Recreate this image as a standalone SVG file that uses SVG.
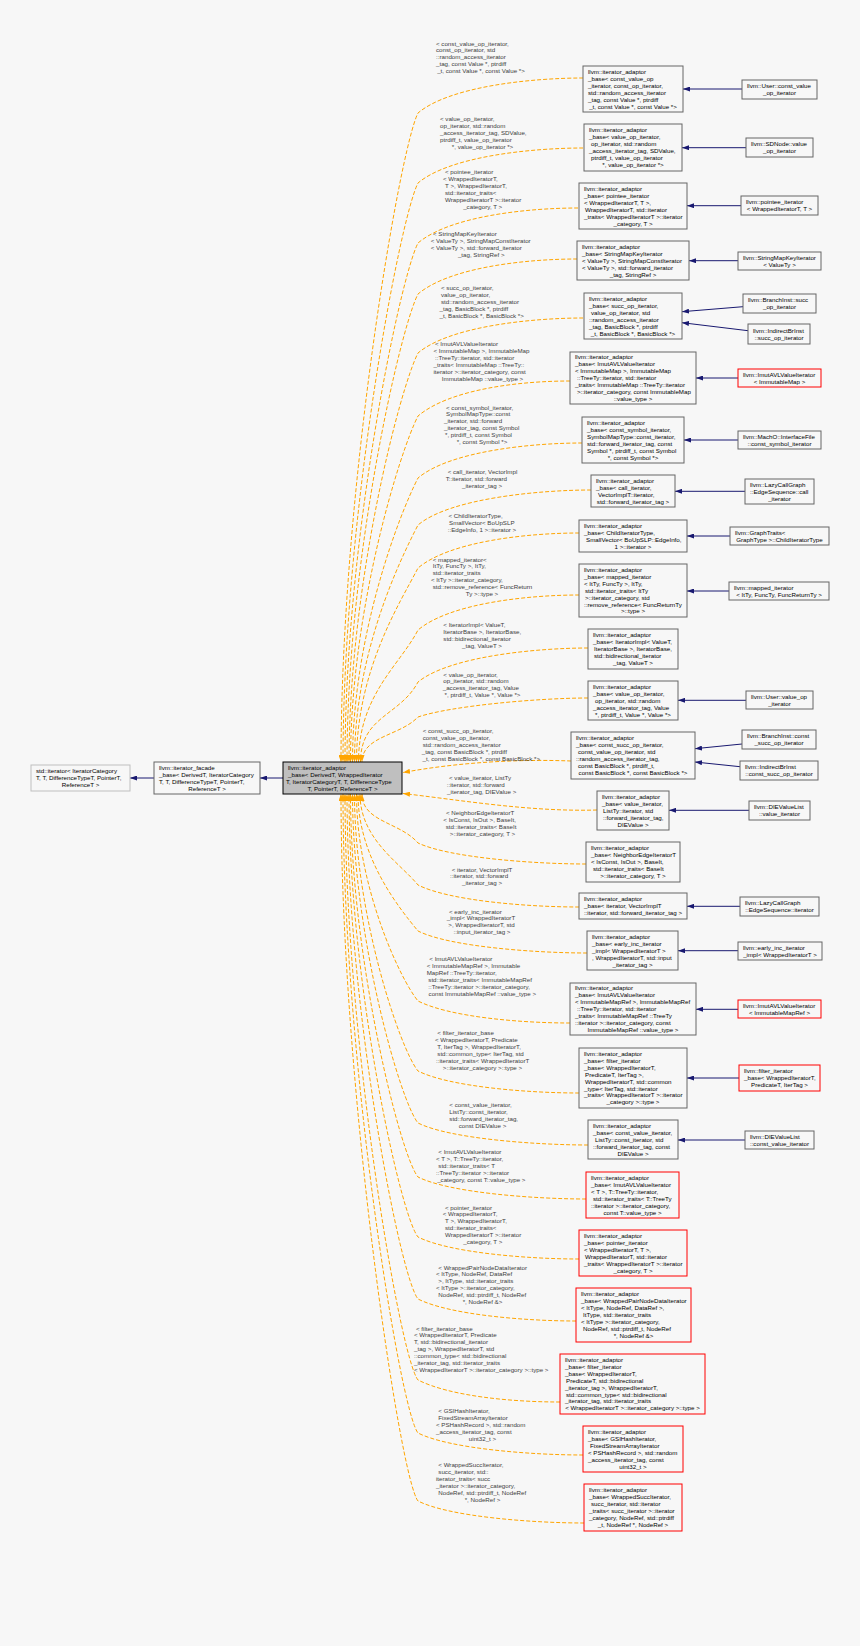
<svg xmlns="http://www.w3.org/2000/svg" width="860" height="1646" viewBox="0 0 860 1646">
<style>
text{font-family:"Liberation Sans",Arial,Helvetica,sans-serif;font-size:6.2px;fill:#000}
.lb text,text.lb{fill:#404040}
.n{fill:#f7f7f7;stroke:#666;stroke-width:1}
.r{fill:#f7f7f7;stroke:#f00;stroke-width:1}
.m{fill:#bfbfbf;stroke:#000;stroke-width:1}
.s{fill:#f7f7f7;stroke:#bfbfbf;stroke-width:1}
.e{fill:none;stroke:#191970;stroke-width:1;marker-end:url(#an)}
.o{fill:none;stroke:#ffa500;stroke-width:1;stroke-dasharray:4,2;marker-end:url(#ao)}
.c{text-anchor:middle}
</style>
<defs>
<marker id="an" viewBox="0 0 7 5" refX="7" refY="2.5" markerWidth="7" markerHeight="5" orient="auto" markerUnits="userSpaceOnUse"><path d="M0,0L7,2.5L0,5z" fill="#191970"/></marker>
<marker id="ao" viewBox="0 0 7 5" refX="7" refY="2.5" markerWidth="7" markerHeight="5" orient="auto" markerUnits="userSpaceOnUse"><path d="M0,0L7,2.5L0,5z" fill="#ffa500"/></marker>
</defs>
<rect width="860" height="1646" fill="#f7f7f7"/>

<g id="connectors">
<path class="e" d="M154,778H130"/>
<path class="e" d="M283,778H260"/>
<path class="e" d="M742,89H683"/>
<path class="e" d="M746,147.7H682"/>
<path class="e" d="M741,205.7H687"/>
<path class="e" d="M738,260.7H689"/>
<path class="e" d="M743,306.7L682,311.7"/>
<path class="e" d="M748,330.7L682,322.7"/>
<path class="e" d="M738,378H696"/>
<path class="e" d="M738,440H684"/>
<path class="e" d="M745,491.3H675"/>
<path class="e" d="M730,536H687"/>
<path class="e" d="M729,591H687"/>
<path class="e" d="M746,700.3H678"/>
<path class="e" d="M742,744L695,748.7"/>
<path class="e" d="M740,766.7L695,762"/>
<path class="e" d="M749,810.3H669"/>
<path class="e" d="M740,906.3H687"/>
<path class="e" d="M738,950.7H678"/>
<path class="e" d="M738,1009.3H696"/>
<path class="e" d="M739,1078H687"/>
<path class="e" d="M745,1140H678"/>

<path class="o" d="M583,78 C533,78 450,86 418,113 C400,148 341,488 341,762"/>
<path class="o" d="M583,148 C533,148 450,156 418,183 C400,218 343,516 343,762"/>
<path class="o" d="M578,208 C528,208 450,216 418,243 C400,278 345,540 345,762"/>
<path class="o" d="M577,259 C527,259 450,267 418,294 C400,329 347,561 347,762"/>
<path class="o" d="M583,318 C533,318 450,326 418,353 C400,388 349,584 349,762"/>
<path class="o" d="M570,381 C520,381 450,389 418,416 C400,451 350.5,610 350.5,762"/>
<path class="o" d="M582,443 C532,443 450,451 418,478 C400,513 352.5,634 352.5,762"/>
<path class="o" d="M591,490 C541,490 450,498 418,525 C400,560 354.5,653 354.5,762"/>
<path class="o" d="M579,533 C529,533 450,541 418,568 C400,603 356.5,670 356.5,762"/>
<path class="o" d="M579,595 C529,595 450,603 418,630 C400,665 358.5,695 358.5,762"/>
<path class="o" d="M588,648 C538,648 450,656 418,682 C400,716 360.5,716 360.5,762"/>
<path class="o" d="M588,698 C538,698 450,706 418,717 C400,736 362,736 362,762"/>
<path class="o" d="M571,761 C520,759 460,762 403,772.5"/>
<path class="o" d="M597,810 C530,812 460,800 403,793.5"/>
<path class="o" d="M586,864 C536,864 450,858 418,843 C400,822 362,822 362,794"/>
<path class="o" d="M579,907 C529,907 450,901 418,885 C400,863 360,839 360,794"/>
<path class="o" d="M587,953 C537,953 450,947 418,931 C400,909 358,858 358,794"/>
<path class="o" d="M570,1023 C520,1023 450,1017 418,1001 C400,979 356.5,886 356.5,794"/>
<path class="o" d="M579,1093 C529,1093 450,1087 418,1071 C400,1049 354.5,914 354.5,794"/>
<path class="o" d="M588,1145 C538,1145 450,1139 418,1123 C400,1101 352.5,934 352.5,794"/>
<path class="o" d="M586,1199 C536,1199 450,1193 418,1177 C400,1155 350.5,956 350.5,794"/>
<path class="o" d="M579,1259 C529,1259 450,1253 418,1237 C400,1215 349,980 349,794"/>
<path class="o" d="M576,1321 C526,1321 450,1315 418,1299 C400,1277 347,1005 347,794"/>
<path class="o" d="M560,1402 C510,1402 450,1396 418,1380 C400,1358 345,1037 345,794"/>
<path class="o" d="M583,1455 C533,1455 450,1449 418,1433 C400,1411 343,1058 343,794"/>
<path class="o" d="M584,1523 C534,1523 450,1517 418,1501 C400,1479 341,1086 341,794"/>

<g class="lb">
<text y="45.5"><tspan x="436">&lt; const_value_op_iterator,</tspan><tspan x="436" dy="6.93">const_op_iterator, std</tspan><tspan x="436" dy="6.93">::random_access_iterator</tspan><tspan x="436" dy="6.93">_tag, const Value *, ptrdiff</tspan><tspan x="481" dy="6.93" class="c">_t, const Value *, const Value *&gt;</tspan></text>
<text y="121.2"><tspan x="440">&lt; value_op_iterator,</tspan><tspan x="440" dy="6.93">op_iterator, std::random</tspan><tspan x="440" dy="6.93">_access_iterator_tag, SDValue,</tspan><tspan x="440" dy="6.93">ptrdiff_t, value_op_iterator</tspan><tspan x="482.5" dy="6.93" class="c">*, value_op_iterator *&gt;</tspan></text>
<text y="174.2"><tspan x="445">&lt; pointee_iterator</tspan><tspan x="443" dy="6.93">&lt; WrappedIteratorT,</tspan><tspan x="445" dy="6.93">T &gt;, WrappedIteratorT,</tspan><tspan x="445" dy="6.93">std::iterator_traits&lt;</tspan><tspan x="445" dy="6.93">WrappedIteratorT &gt;::iterator</tspan><tspan x="482.7" dy="6.93" class="c">_category, T &gt;</tspan></text>
<text y="236.2"><tspan x="433">&lt; StringMapKeyIterator</tspan><tspan x="430.7" dy="6.93">&lt; ValueTy &gt;, StringMapConstIterator</tspan><tspan x="430.7" dy="6.93">&lt; ValueTy &gt;, std::forward_iterator</tspan><tspan x="481.2" dy="6.93" class="c">_tag, StringRef &gt;</tspan></text>
<text y="290.2"><tspan x="441">&lt; succ_op_iterator,</tspan><tspan x="441" dy="6.93">value_op_iterator,</tspan><tspan x="441" dy="6.93">std::random_access_iterator</tspan><tspan x="439.5" dy="6.93">_tag, BasicBlock *, ptrdiff</tspan><tspan x="481.7" dy="6.93" class="c">_t, BasicBlock *, BasicBlock *&gt;</tspan></text>
<text y="345.9"><tspan x="435">&lt; ImutAVLValueIterator</tspan><tspan x="433.5" dy="6.93">&lt; ImmutableMap &gt;, ImmutableMap</tspan><tspan x="435" dy="6.93">::TreeTy::iterator, std::iterator</tspan><tspan x="433.5" dy="6.93">_traits&lt; ImmutableMap ::TreeTy::</tspan><tspan x="433.5" dy="6.93">iterator &gt;::iterator_category, const</tspan><tspan x="482.5" dy="6.93" class="c">ImmutableMap ::value_type &gt;</tspan></text>
<text y="409.5"><tspan x="446">&lt; const_symbol_iterator,</tspan><tspan x="446" dy="6.93">SymbolMapType::const</tspan><tspan x="444" dy="6.93">_iterator, std::forward</tspan><tspan x="444" dy="6.93">_iterator_tag, const Symbol</tspan><tspan x="445" dy="6.93">*, ptrdiff_t, const Symbol</tspan><tspan x="482" dy="6.93" class="c">*, const Symbol *&gt;</tspan></text>
<text y="473.9"><tspan x="447.7">&lt; call_iterator, VectorImpl</tspan><tspan x="445.7" dy="6.93">T::iterator, std::forward</tspan><tspan x="482" dy="6.93" class="c">_iterator_tag &gt;</tspan></text>
<text y="517.9"><tspan x="448.5">&lt; ChildIteratorType,</tspan><tspan x="449" dy="6.93">SmallVector&lt; BoUpSLP</tspan><tspan x="482" dy="6.93" class="c">::EdgeInfo, 1 &gt;::iterator &gt;</tspan></text>
<text y="561.5"><tspan x="432.7">&lt; mapped_iterator&lt;</tspan><tspan x="432.7" dy="6.93">ItTy, FuncTy &gt;, ItTy,</tspan><tspan x="432.7" dy="6.93">std::iterator_traits</tspan><tspan x="431" dy="6.93">&lt; ItTy &gt;::iterator_category,</tspan><tspan x="432.7" dy="6.93">std::remove_reference&lt; FuncReturn</tspan><tspan x="482" dy="6.93" class="c">Ty &gt;::type &gt;</tspan></text>
<text y="627.2"><tspan x="443.3">&lt; IteratorImpl&lt; ValueT,</tspan><tspan x="443.3" dy="6.93">IteratorBase &gt;, IteratorBase,</tspan><tspan x="443.3" dy="6.93">std::bidirectional_iterator</tspan><tspan x="482" dy="6.93" class="c">_tag, ValueT &gt;</tspan></text>
<text y="676.5"><tspan x="443.3">&lt; value_op_iterator,</tspan><tspan x="443.3" dy="6.93">op_iterator, std::random</tspan><tspan x="442.7" dy="6.93">_access_iterator_tag, Value</tspan><tspan x="482.5" dy="6.93" class="c">*, ptrdiff_t, Value *, Value *&gt;</tspan></text>
<text y="732.9"><tspan x="422.7">&lt; const_succ_op_iterator,</tspan><tspan x="422.7" dy="6.93">const_value_op_iterator,</tspan><tspan x="422.7" dy="6.93">std::random_access_iterator</tspan><tspan x="421.7" dy="6.93">_tag, const BasicBlock *, ptrdiff</tspan><tspan x="481.3" dy="6.93" class="c">_t, const BasicBlock *, const BasicBlock *&gt;</tspan></text>
<text y="779.9"><tspan x="449">&lt; value_iterator, ListTy</tspan><tspan x="446.7" dy="6.93">::iterator, std::forward</tspan><tspan x="481.7" dy="6.93" class="c">_iterator_tag, DIEValue &gt;</tspan></text>
<text y="815.2"><tspan x="446">&lt; NeighborEdgeIteratorT</tspan><tspan x="443.3" dy="6.93">&lt; IsConst, IsOut &gt;, BaseIt,</tspan><tspan x="445.7" dy="6.93">std::iterator_traits&lt; BaseIt</tspan><tspan x="482.5" dy="6.93" class="c">&gt;::iterator_category, T &gt;</tspan></text>
<text y="871.5"><tspan x="451.7">&lt; iterator, VectorImplT</tspan><tspan x="450" dy="6.93">::iterator, std::forward</tspan><tspan x="482" dy="6.93" class="c">_iterator_tag &gt;</tspan></text>
<text y="913.5"><tspan x="449">&lt; early_inc_iterator</tspan><tspan x="446.7" dy="6.93">_impl&lt; WrappedIteratorT</tspan><tspan x="448.3" dy="6.93">&gt;, WrappedIteratorT, std</tspan><tspan x="482" dy="6.93" class="c">::input_iterator_tag &gt;</tspan></text>
<text y="961.2"><tspan x="429.3">&lt; ImutAVLValueIterator</tspan><tspan x="426.7" dy="6.93">&lt; ImmutableMapRef &gt;, Immutable</tspan><tspan x="426.7" dy="6.93">MapRef ::TreeTy::iterator,</tspan><tspan x="428.3" dy="6.93">std::iterator_traits&lt; ImmutableMapRef</tspan><tspan x="428.3" dy="6.93">::TreeTy::iterator &gt;::iterator_category,</tspan><tspan x="482.3" dy="6.93" class="c">const ImmutableMapRef ::value_type &gt;</tspan></text>
<text y="1034.9"><tspan x="437.3">&lt; filter_iterator_base</tspan><tspan x="435" dy="6.93">&lt; WrappedIteratorT, Predicate</tspan><tspan x="437.3" dy="6.93">T, IterTag &gt;, WrappedIteratorT,</tspan><tspan x="437.3" dy="6.93">std::common_type&lt; IterTag, std</tspan><tspan x="436" dy="6.93">::iterator_traits&lt; WrappedIteratorT</tspan><tspan x="482.5" dy="6.93" class="c">&gt;::iterator_category &gt;::type &gt;</tspan></text>
<text y="1107.2"><tspan x="449.3">&lt; const_value_iterator,</tspan><tspan x="449.3" dy="6.93">ListTy::const_iterator,</tspan><tspan x="449.3" dy="6.93">std::forward_iterator_tag,</tspan><tspan x="482.5" dy="6.93" class="c">const DIEValue &gt;</tspan></text>
<text y="1153.9"><tspan x="438.3">&lt; ImutAVLValueIterator</tspan><tspan x="436" dy="6.93">&lt; T &gt;, T::TreeTy::iterator,</tspan><tspan x="438.3" dy="6.93">std::iterator_traits&lt; T</tspan><tspan x="436" dy="6.93">::TreeTy::iterator &gt;::iterator</tspan><tspan x="481.3" dy="6.93" class="c">_category, const T::value_type &gt;</tspan></text>
<text y="1209.5"><tspan x="445">&lt; pointer_iterator</tspan><tspan x="442.7" dy="6.93">&lt; WrappedIteratorT,</tspan><tspan x="445" dy="6.93">T &gt;, WrappedIteratorT,</tspan><tspan x="445" dy="6.93">std::iterator_traits&lt;</tspan><tspan x="445" dy="6.93">WrappedIteratorT &gt;::iterator</tspan><tspan x="482.8" dy="6.93" class="c">_category, T &gt;</tspan></text>
<text y="1269.5"><tspan x="438.3">&lt; WrappedPairNodeDataIterator</tspan><tspan x="436" dy="6.93">&lt; ItType, NodeRef, DataRef</tspan><tspan x="438.3" dy="6.93">&gt;, ItType, std::iterator_traits</tspan><tspan x="436" dy="6.93">&lt; ItType &gt;::iterator_category,</tspan><tspan x="438.3" dy="6.93">NodeRef, std::ptrdiff_t, NodeRef</tspan><tspan x="482.5" dy="6.93" class="c">*, NodeRef &amp;&gt;</tspan></text>
<text y="1330.5"><tspan x="416">&lt; filter_iterator_base</tspan><tspan x="414" dy="6.93">&lt; WrappedIteratorT, Predicate</tspan><tspan x="414" dy="6.93">T, std::bidirectional_iterator</tspan><tspan x="414" dy="6.93">_tag &gt;, WrappedIteratorT, std</tspan><tspan x="414" dy="6.93">::common_type&lt; std::bidirectional</tspan><tspan x="414" dy="6.93">_iterator_tag, std::iterator_traits</tspan><tspan x="481.2" dy="6.93" class="c">&lt; WrappedIteratorT &gt;::iterator_category &gt;::type &gt;</tspan></text>
<text y="1412.9"><tspan x="438.3">&lt; GSIHashIterator,</tspan><tspan x="438.3" dy="6.93">FixedStreamArrayIterator</tspan><tspan x="436" dy="6.93">&lt; PSHashRecord &gt;, std::random</tspan><tspan x="436" dy="6.93">_access_iterator_tag, const</tspan><tspan x="482.5" dy="6.93" class="c">uint32_t &gt;</tspan></text>
<text y="1466.9"><tspan x="438.3">&lt; WrappedSuccIterator,</tspan><tspan x="438.3" dy="6.93">succ_iterator, std::</tspan><tspan x="436" dy="6.93">iterator_traits&lt; succ</tspan><tspan x="436" dy="6.93">_iterator &gt;::iterator_category,</tspan><tspan x="438.3" dy="6.93">NodeRef, std::ptrdiff_t, NodeRef</tspan><tspan x="482.5" dy="6.93" class="c">*, NodeRef &gt;</tspan></text>
</g>
</g>

<g id="n_stditer"><rect class="s" x="31" y="765" width="99" height="26"/><text y="773.3"><tspan x="36">std::iterator&lt; IteratorCategory</tspan><tspan x="36" dy="6.93">T, T, DifferenceTypeT, PointerT,</tspan><tspan x="80.5" dy="6.93" class="c">ReferenceT &gt;</tspan></text></g>
<g id="n_facade"><rect class="n" x="154" y="762" width="106" height="32"/><text y="769.8"><tspan x="159">llvm::iterator_facade</tspan><tspan x="159" dy="6.93">_base&lt; DerivedT, IteratorCategory</tspan><tspan x="159" dy="6.93">T, T, DifferenceTypeT, PointerT,</tspan><tspan x="207" dy="6.93" class="c">ReferenceT &gt;</tspan></text></g>
<g id="n_main"><rect class="m" x="283" y="762" width="119" height="32"/><text y="769.8"><tspan x="288">llvm::iterator_adaptor</tspan><tspan x="288" dy="6.93">_base&lt; DerivedT, WrappedIterator</tspan><tspan x="286" dy="6.93">T, IteratorCategoryT, T, DifferenceType</tspan><tspan x="342.5" dy="6.93" class="c">T, PointerT, ReferenceT &gt;</tspan></text></g>

<g id="n1"><rect class="n" x="583" y="66" width="100" height="46"/><text y="73.9"><tspan x="588">llvm::iterator_adaptor</tspan><tspan x="588" dy="6.93">_base&lt; const_value_op</tspan><tspan x="588" dy="6.93">_iterator, const_op_iterator,</tspan><tspan x="588" dy="6.93">std::random_access_iterator</tspan><tspan x="588" dy="6.93">_tag, const Value *, ptrdiff</tspan><tspan x="633" dy="6.93" class="c">_t, const Value *, const Value *&gt;</tspan></text></g>
<g id="c1"><rect class="n" x="742" y="80" width="75" height="19"/><text y="88.2"><tspan x="747">llvm::User::const_value</tspan><tspan x="779.5" dy="6.93" class="c">_op_iterator</tspan></text></g>

<g id="n2"><rect class="n" x="584" y="124" width="98" height="47"/><text y="132.4"><tspan x="589">llvm::iterator_adaptor</tspan><tspan x="589" dy="6.93">_base&lt; value_op_iterator,</tspan><tspan x="591" dy="6.93">op_iterator, std::random</tspan><tspan x="589" dy="6.93">_access_iterator_tag, SDValue,</tspan><tspan x="591" dy="6.93">ptrdiff_t, value_op_iterator</tspan><tspan x="633" dy="6.93" class="c">*, value_op_iterator *&gt;</tspan></text></g>
<g id="c2"><rect class="n" x="746" y="138" width="67" height="19"/><text y="146.2"><tspan x="751">llvm::SDNode::value</tspan><tspan x="779.5" dy="6.93" class="c">_op_iterator</tspan></text></g>

<g id="n3"><rect class="n" x="579" y="183" width="108" height="46"/><text y="190.9"><tspan x="584">llvm::iterator_adaptor</tspan><tspan x="584" dy="6.93">_base&lt; pointee_iterator</tspan><tspan x="584" dy="6.93">&lt; WrappedIteratorT, T &gt;,</tspan><tspan x="585" dy="6.93">WrappedIteratorT, std::iterator</tspan><tspan x="584" dy="6.93">_traits&lt; WrappedIteratorT &gt;::iterator</tspan><tspan x="633" dy="6.93" class="c">_category, T &gt;</tspan></text></g>
<g id="c3"><rect class="n" x="741" y="196" width="77" height="19"/><text y="204.2"><tspan x="746">llvm::pointee_iterator</tspan><tspan x="779.5" dy="6.93" class="c">&lt; WrappedIteratorT, T &gt;</tspan></text></g>

<g id="n4"><rect class="n" x="577" y="241" width="112" height="39"/><text y="248.8"><tspan x="582">llvm::iterator_adaptor</tspan><tspan x="582" dy="6.93">_base&lt; StringMapKeyIterator</tspan><tspan x="582" dy="6.93">&lt; ValueTy &gt;, StringMapConstIterator</tspan><tspan x="582" dy="6.93">&lt; ValueTy &gt;, std::forward_iterator</tspan><tspan x="633" dy="6.93" class="c">_tag, StringRef &gt;</tspan></text></g>
<g id="c4"><rect class="n" x="738" y="252" width="83" height="18"/><text y="259.7"><tspan x="743">llvm::StringMapKeyIterator</tspan><tspan x="779.5" dy="6.93" class="c">&lt; ValueTy &gt;</tspan></text></g>

<g id="n5"><rect class="n" x="584" y="293" width="98" height="46"/><text y="300.9"><tspan x="589">llvm::iterator_adaptor</tspan><tspan x="589" dy="6.93">_base&lt; succ_op_iterator,</tspan><tspan x="591" dy="6.93">value_op_iterator, std</tspan><tspan x="589" dy="6.93">::random_access_iterator</tspan><tspan x="589" dy="6.93">_tag, BasicBlock *, ptrdiff</tspan><tspan x="633" dy="6.93" class="c">_t, BasicBlock *, BasicBlock *&gt;</tspan></text></g>
<g id="c5a"><rect class="n" x="743" y="294" width="73" height="19"/><text y="302.2"><tspan x="748">llvm::BranchInst::succ</tspan><tspan x="779.5" dy="6.93" class="c">_op_iterator</tspan></text></g>
<g id="c5b"><rect class="n" x="748" y="324" width="62" height="20"/><text y="332.7"><tspan x="753">llvm::IndirectBrInst</tspan><tspan x="779" dy="6.93" class="c">::succ_op_iterator</tspan></text></g>

<g id="n6"><rect class="n" x="570" y="352" width="126" height="52"/><text y="359.4"><tspan x="575">llvm::iterator_adaptor</tspan><tspan x="575" dy="6.93">_base&lt; ImutAVLValueIterator</tspan><tspan x="575" dy="6.93">&lt; ImmutableMap &gt;, ImmutableMap</tspan><tspan x="577" dy="6.93">::TreeTy::iterator, std::iterator</tspan><tspan x="575" dy="6.93">_traits&lt; ImmutableMap ::TreeTy::iterator</tspan><tspan x="577" dy="6.93">&gt;::iterator_category, const ImmutableMap</tspan><tspan x="633" dy="6.93" class="c">::value_type &gt;</tspan></text></g>
<g id="c6"><rect class="r" x="738" y="369" width="83" height="18"/><text y="376.7"><tspan x="743">llvm::ImutAVLValueIterator</tspan><tspan x="779.5" dy="6.93" class="c">&lt; ImmutableMap &gt;</tspan></text></g>

<g id="n7"><rect class="n" x="582" y="417" width="102" height="46"/><text y="424.9"><tspan x="587">llvm::iterator_adaptor</tspan><tspan x="587" dy="6.93">_base&lt; const_symbol_iterator,</tspan><tspan x="587" dy="6.93">SymbolMapType::const_iterator,</tspan><tspan x="587" dy="6.93">std::forward_iterator_tag, const</tspan><tspan x="587" dy="6.93">Symbol *, ptrdiff_t, const Symbol</tspan><tspan x="633" dy="6.93" class="c">*, const Symbol *&gt;</tspan></text></g>
<g id="c7"><rect class="n" x="738" y="431" width="83" height="18"/><text y="438.7"><tspan x="743">llvm::MachO::InterfaceFile</tspan><tspan x="779.5" dy="6.93" class="c">::const_symbol_iterator</tspan></text></g>

<g id="n8"><rect class="n" x="591" y="475" width="84" height="32"/><text y="482.8"><tspan x="596">llvm::iterator_adaptor</tspan><tspan x="596" dy="6.93">_base&lt; call_iterator,</tspan><tspan x="598" dy="6.93">VectorImplT::iterator,</tspan><tspan x="633" dy="6.93" class="c">std::forward_iterator_tag &gt;</tspan></text></g>
<g id="c8"><rect class="n" x="745" y="479" width="69" height="25"/><text y="486.8"><tspan x="750">llvm::LazyCallGraph</tspan><tspan x="750" dy="6.93">::EdgeSequence::call</tspan><tspan x="779.5" dy="6.93" class="c">_iterator</tspan></text></g>

<g id="n9"><rect class="n" x="579" y="520" width="108" height="32"/><text y="527.8"><tspan x="584">llvm::iterator_adaptor</tspan><tspan x="584" dy="6.93">_base&lt; ChildIteratorType,</tspan><tspan x="586" dy="6.93">SmallVector&lt; BoUpSLP::EdgeInfo,</tspan><tspan x="633" dy="6.93" class="c">1 &gt;::iterator &gt;</tspan></text></g>
<g id="c9"><rect class="n" x="730" y="527" width="99" height="18"/><text y="534.7"><tspan x="735">llvm::GraphTraits&lt;</tspan><tspan x="779.5" dy="6.93" class="c">GraphType &gt;::ChildIteratorType</tspan></text></g>

<g id="n10"><rect class="n" x="579" y="564" width="108" height="53"/><text y="571.9"><tspan x="584">llvm::iterator_adaptor</tspan><tspan x="584" dy="6.93">_base&lt; mapped_iterator</tspan><tspan x="584" dy="6.93">&lt; ItTy, FuncTy &gt;, ItTy,</tspan><tspan x="585" dy="6.93">std::iterator_traits&lt; ItTy</tspan><tspan x="585" dy="6.93">&gt;::iterator_category, std</tspan><tspan x="584" dy="6.93">::remove_reference&lt; FuncReturnTy</tspan><tspan x="633" dy="6.93" class="c">&gt;::type &gt;</tspan></text></g>
<g id="c10"><rect class="n" x="729" y="582" width="100" height="18"/><text y="589.7"><tspan x="734">llvm::mapped_iterator</tspan><tspan x="779" dy="6.93" class="c">&lt; ItTy, FuncTy, FuncReturnTy &gt;</tspan></text></g>

<g id="n11"><rect class="n" x="588" y="629" width="90" height="40"/><text y="637.3"><tspan x="593">llvm::iterator_adaptor</tspan><tspan x="593" dy="6.93">_base&lt; IteratorImpl&lt; ValueT,</tspan><tspan x="594" dy="6.93">IteratorBase &gt;, IteratorBase,</tspan><tspan x="594" dy="6.93">std::bidirectional_iterator</tspan><tspan x="633" dy="6.93" class="c">_tag, ValueT &gt;</tspan></text></g>

<g id="n12"><rect class="n" x="588" y="681" width="90" height="39"/><text y="688.8"><tspan x="593">llvm::iterator_adaptor</tspan><tspan x="593" dy="6.93">_base&lt; value_op_iterator,</tspan><tspan x="595" dy="6.93">op_iterator, std::random</tspan><tspan x="593" dy="6.93">_access_iterator_tag, Value</tspan><tspan x="633" dy="6.93" class="c">*, ptrdiff_t, Value *, Value *&gt;</tspan></text></g>
<g id="c12"><rect class="n" x="746" y="691" width="67" height="18"/><text y="698.7"><tspan x="751">llvm::User::value_op</tspan><tspan x="779.5" dy="6.93" class="c">_iterator</tspan></text></g>

<g id="n13"><rect class="n" x="571" y="732" width="124" height="47"/><text y="740.4"><tspan x="576">llvm::iterator_adaptor</tspan><tspan x="576" dy="6.93">_base&lt; const_succ_op_iterator,</tspan><tspan x="578" dy="6.93">const_value_op_iterator, std</tspan><tspan x="576" dy="6.93">::random_access_iterator_tag,</tspan><tspan x="578" dy="6.93">const BasicBlock *, ptrdiff_t,</tspan><tspan x="633" dy="6.93" class="c">const BasicBlock *, const BasicBlock *&gt;</tspan></text></g>
<g id="c13a"><rect class="n" x="742" y="730" width="74" height="19"/><text y="738.2"><tspan x="747">llvm::BranchInst::const</tspan><tspan x="779" dy="6.93" class="c">_succ_op_iterator</tspan></text></g>
<g id="c13b"><rect class="n" x="740" y="761" width="78" height="19"/><text y="769.2"><tspan x="745">llvm::IndirectBrInst</tspan><tspan x="779" dy="6.93" class="c">::const_succ_op_iterator</tspan></text></g>

<g id="n14"><rect class="n" x="597" y="791" width="72" height="39"/><text y="798.8"><tspan x="602">llvm::iterator_adaptor</tspan><tspan x="602" dy="6.93">_base&lt; value_iterator,</tspan><tspan x="603" dy="6.93">ListTy::iterator, std</tspan><tspan x="603" dy="6.93">::forward_iterator_tag,</tspan><tspan x="633" dy="6.93" class="c">DIEValue &gt;</tspan></text></g>
<g id="c14"><rect class="n" x="749" y="801" width="61" height="19"/><text y="809.2"><tspan x="754">llvm::DIEValueList</tspan><tspan x="779.5" dy="6.93" class="c">::value_iterator</tspan></text></g>

<g id="n15"><rect class="n" x="586" y="842" width="94" height="40"/><text y="850.3"><tspan x="591">llvm::iterator_adaptor</tspan><tspan x="591" dy="6.93">_base&lt; NeighborEdgeIteratorT</tspan><tspan x="591" dy="6.93">&lt; IsConst, IsOut &gt;, BaseIt,</tspan><tspan x="593" dy="6.93">std::iterator_traits&lt; BaseIt</tspan><tspan x="633" dy="6.93" class="c">&gt;::iterator_category, T &gt;</tspan></text></g>

<g id="n16"><rect class="n" x="579" y="893" width="108" height="26"/><text y="901.3"><tspan x="584">llvm::iterator_adaptor</tspan><tspan x="584" dy="6.93">_base&lt; iterator, VectorImplT</tspan><tspan x="633" dy="6.93" class="c">::iterator, std::forward_iterator_tag &gt;</tspan></text></g>
<g id="c16"><rect class="n" x="740" y="897" width="79" height="19"/><text y="905.2"><tspan x="745">llvm::LazyCallGraph</tspan><tspan x="779.5" dy="6.93" class="c">::EdgeSequence::iterator</tspan></text></g>

<g id="n17"><rect class="n" x="587" y="931" width="91" height="39"/><text y="938.8"><tspan x="592">llvm::iterator_adaptor</tspan><tspan x="592" dy="6.93">_base&lt; early_inc_iterator</tspan><tspan x="592" dy="6.93">_impl&lt; WrappedIteratorT &gt;</tspan><tspan x="592" dy="6.93">, WrappedIteratorT, std::input</tspan><tspan x="632.5" dy="6.93" class="c">_iterator_tag &gt;</tspan></text></g>
<g id="c17"><rect class="n" x="738" y="942" width="84" height="18"/><text y="949.7"><tspan x="743">llvm::early_inc_iterator</tspan><tspan x="780" dy="6.93" class="c">_impl&lt; WrappedIteratorT &gt;</tspan></text></g>

<g id="n18"><rect class="n" x="570" y="983" width="126" height="52"/><text y="990.4"><tspan x="575">llvm::iterator_adaptor</tspan><tspan x="575" dy="6.93">_base&lt; ImutAVLValueIterator</tspan><tspan x="575" dy="6.93">&lt; ImmutableMapRef &gt;, ImmutableMapRef</tspan><tspan x="577" dy="6.93">::TreeTy::iterator, std::iterator</tspan><tspan x="575" dy="6.93">_traits&lt; ImmutableMapRef ::TreeTy</tspan><tspan x="575" dy="6.93">::iterator &gt;::iterator_category, const</tspan><tspan x="633" dy="6.93" class="c">ImmutableMapRef ::value_type &gt;</tspan></text></g>
<g id="c18"><rect class="r" x="738" y="1000" width="83" height="18"/><text y="1007.7"><tspan x="743">llvm::ImutAVLValueIterator</tspan><tspan x="779.5" dy="6.93" class="c">&lt; ImmutableMapRef &gt;</tspan></text></g>

<g id="n19"><rect class="n" x="579" y="1048" width="108" height="60"/><text y="1055.9"><tspan x="584">llvm::iterator_adaptor</tspan><tspan x="584" dy="6.93">_base&lt; filter_iterator</tspan><tspan x="584" dy="6.93">_base&lt; WrappedIteratorT,</tspan><tspan x="585" dy="6.93">PredicateT, IterTag &gt;,</tspan><tspan x="585" dy="6.93">WrappedIteratorT, std::common</tspan><tspan x="584" dy="6.93">_type&lt; IterTag, std::iterator</tspan><tspan x="584" dy="6.93">_traits&lt; WrappedIteratorT &gt;::iterator</tspan><tspan x="633" dy="6.93" class="c">_category &gt;::type &gt;</tspan></text></g>
<g id="c19"><rect class="r" x="739" y="1065" width="81" height="26"/><text y="1073.3"><tspan x="744">llvm::filter_iterator</tspan><tspan x="744" dy="6.93">_base&lt; WrappedIteratorT,</tspan><tspan x="779.5" dy="6.93" class="c">PredicateT, IterTag &gt;</tspan></text></g>

<g id="n20"><rect class="n" x="588" y="1120" width="90" height="39"/><text y="1127.8"><tspan x="593">llvm::iterator_adaptor</tspan><tspan x="593" dy="6.93">_base&lt; const_value_iterator,</tspan><tspan x="595" dy="6.93">ListTy::const_iterator, std</tspan><tspan x="593" dy="6.93">::forward_iterator_tag, const</tspan><tspan x="633" dy="6.93" class="c">DIEValue &gt;</tspan></text></g>
<g id="c20"><rect class="n" x="745" y="1131" width="69" height="18"/><text y="1138.7"><tspan x="750">llvm::DIEValueList</tspan><tspan x="779.5" dy="6.93" class="c">::const_value_iterator</tspan></text></g>

<g id="n21"><rect class="r" x="586" y="1172" width="93" height="46"/><text y="1179.9"><tspan x="591">llvm::iterator_adaptor</tspan><tspan x="591" dy="6.93">_base&lt; ImutAVLValueIterator</tspan><tspan x="591" dy="6.93">&lt; T &gt;, T::TreeTy::iterator,</tspan><tspan x="593" dy="6.93">std::iterator_traits&lt; T::TreeTy</tspan><tspan x="591" dy="6.93">::iterator &gt;::iterator_category,</tspan><tspan x="632.5" dy="6.93" class="c">const T::value_type &gt;</tspan></text></g>

<g id="n22"><rect class="r" x="579" y="1230" width="108" height="46"/><text y="1237.9"><tspan x="584">llvm::iterator_adaptor</tspan><tspan x="584" dy="6.93">_base&lt; pointer_iterator</tspan><tspan x="584" dy="6.93">&lt; WrappedIteratorT, T &gt;,</tspan><tspan x="585" dy="6.93">WrappedIteratorT, std::iterator</tspan><tspan x="584" dy="6.93">_traits&lt; WrappedIteratorT &gt;::iterator</tspan><tspan x="633" dy="6.93" class="c">_category, T &gt;</tspan></text></g>

<g id="n23"><rect class="r" x="576" y="1288" width="115" height="54"/><text y="1296.4"><tspan x="581">llvm::iterator_adaptor</tspan><tspan x="581" dy="6.93">_base&lt; WrappedPairNodeDataIterator</tspan><tspan x="581" dy="6.93">&lt; ItType, NodeRef, DataRef &gt;,</tspan><tspan x="583" dy="6.93">ItType, std::iterator_traits</tspan><tspan x="581" dy="6.93">&lt; ItType &gt;::iterator_category,</tspan><tspan x="583" dy="6.93">NodeRef, std::ptrdiff_t, NodeRef</tspan><tspan x="633.5" dy="6.93" class="c">*, NodeRef &amp;&gt;</tspan></text></g>

<g id="n24"><rect class="r" x="560" y="1354" width="145" height="60"/><text y="1361.9"><tspan x="565">llvm::iterator_adaptor</tspan><tspan x="565" dy="6.93">_base&lt; filter_iterator</tspan><tspan x="565" dy="6.93">_base&lt; WrappedIteratorT,</tspan><tspan x="566" dy="6.93">PredicateT, std::bidirectional</tspan><tspan x="565" dy="6.93">_iterator_tag &gt;, WrappedIteratorT,</tspan><tspan x="566" dy="6.93">std::common_type&lt; std::bidirectional</tspan><tspan x="565" dy="6.93">_iterator_tag, std::iterator_traits</tspan><tspan x="632.5" dy="6.93" class="c">&lt; WrappedIteratorT &gt;::iterator_category &gt;::type &gt;</tspan></text></g>

<g id="n25"><rect class="r" x="583" y="1426" width="100" height="46"/><text y="1433.9"><tspan x="588">llvm::iterator_adaptor</tspan><tspan x="588" dy="6.93">_base&lt; GSIHashIterator,</tspan><tspan x="590" dy="6.93">FixedStreamArrayIterator</tspan><tspan x="588" dy="6.93">&lt; PSHashRecord &gt;, std::random</tspan><tspan x="588" dy="6.93">_access_iterator_tag, const</tspan><tspan x="633" dy="6.93" class="c">uint32_t &gt;</tspan></text></g>

<g id="n26"><rect class="r" x="584" y="1484" width="98" height="47"/><text y="1492.4"><tspan x="589">llvm::iterator_adaptor</tspan><tspan x="589" dy="6.93">_base&lt; WrappedSuccIterator,</tspan><tspan x="591" dy="6.93">succ_iterator, std::iterator</tspan><tspan x="589" dy="6.93">_traits&lt; succ_iterator &gt;::iterator</tspan><tspan x="589" dy="6.93">_category, NodeRef, std::ptrdiff</tspan><tspan x="633" dy="6.93" class="c">_t, NodeRef *, NodeRef &gt;</tspan></text></g>
</svg>
